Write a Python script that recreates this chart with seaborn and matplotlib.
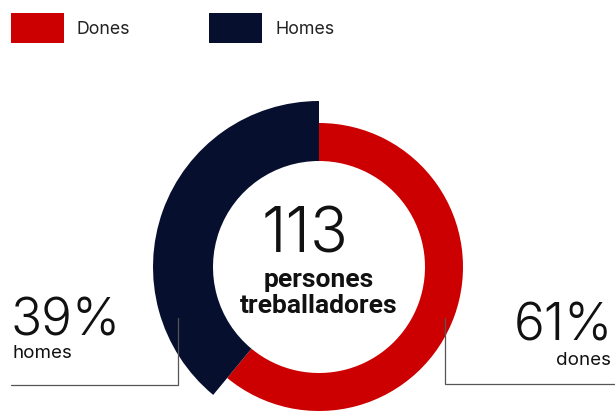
import matplotlib
matplotlib.use("Agg")
import matplotlib.pyplot as plt
import seaborn as sns
from matplotlib.patches import Patch

# ---- data ----
categories = ["Dones", "Homes"]
values = [61, 39]
total_people = 113
label_words = ["dones", "homes"]
center_line1 = "persones"
center_line2 = "treballadores"

RED = "#CC0000"
NAVY = "#070F2E"
TXT = "#111111"

sns.set_theme(style="white")
plt.rcParams["font.family"] = ["Inter", "DejaVu Sans"]

W, H = 615, 411
fig = plt.figure(figsize=(W / 100, H / 100), dpi=100)
ax = fig.add_axes([0, 0, 1, 1])

cx, cy = 319, H - 267
r_out, r_in = 144, 106
wedges, _ = ax.pie(values, colors=[RED, NAVY], startangle=90, counterclock=False,
                   radius=r_out, center=(cx, cy),
                   wedgeprops=dict(width=r_out - r_in, linewidth=0), frame=False)
# navy wedge drawn with a larger outer radius
wedges[1].set_radius(166)
wedges[1].set_width(166 - r_in)

ax.set_xlim(0, W)
ax.set_ylim(0, H)
ax.set_aspect("equal")
ax.axis("off")

# centre text
ax.text(305, H - 252, f"{total_people}", ha="center", va="baseline",
        fontsize=45, fontweight=300, color=TXT)
ax.text(cx, H - 287, center_line1, ha="center", va="baseline",
        fontsize=19, fontweight="bold", color=TXT, family=["Roboto", "DejaVu Sans"])
ax.text(cx, H - 313, center_line2, ha="center", va="baseline",
        fontsize=19, fontweight="bold", color=TXT, family=["Roboto", "DejaVu Sans"])

# side labels
ax.text(11, H - 335, f"{values[1]}%", ha="left", va="baseline",
        fontsize=37, fontweight=300, color=TXT)
ax.text(12, H - 358, label_words[1], ha="left", va="baseline",
        fontsize=13.5, color=TXT)
ax.text(613, H - 340, f"{values[0]}%", ha="right", va="baseline",
        fontsize=37, fontweight=300, color=TXT)
ax.text(611, H - 365, label_words[0], ha="right", va="baseline",
        fontsize=13.5, color=TXT)

# leader lines
lc = "#555555"
ax.plot([178, 178, 11], [H - 318, H - 384.5, H - 384.5], color=lc, lw=0.9,
        solid_joinstyle="miter")
ax.plot([445, 445, 615], [H - 318, H - 384, H - 384], color=lc, lw=0.9,
        solid_joinstyle="miter")

# legend
handles = [Patch(facecolor=c, edgecolor="none") for c in [RED, NAVY]]
fig.legend(handles, categories, loc="upper left",
           bbox_to_anchor=(11 / W, 1 - 13 / H), bbox_transform=fig.transFigure,
           ncol=2, frameon=False, fontsize=12.8, borderpad=0, borderaxespad=0,
           handlelength=2.98, handleheight=2.22, handletextpad=0.72,
           columnspacing=4.45, labelcolor="#222222")

fig.savefig("out.png", dpi=100)
